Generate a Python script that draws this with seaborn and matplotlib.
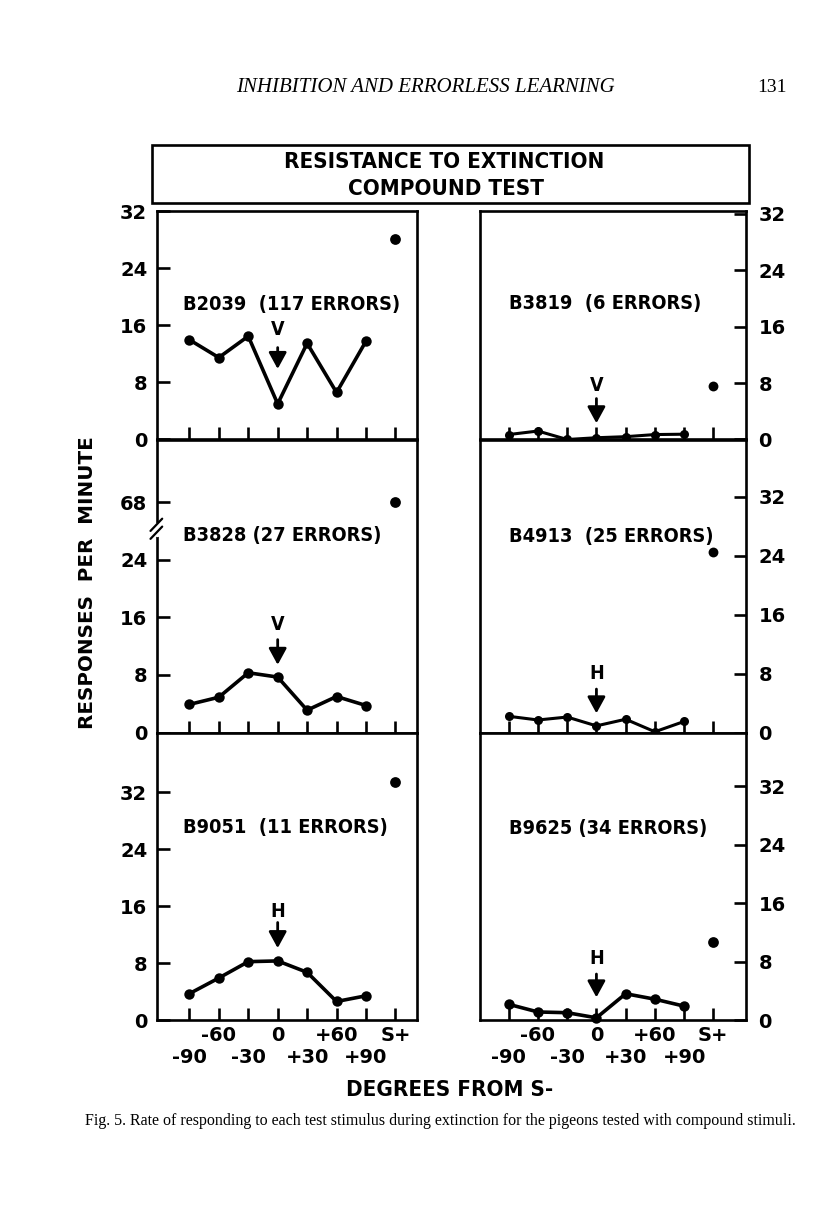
import os
import numpy as np
import pandas as pd
import matplotlib
matplotlib.use("Agg")
import matplotlib.pyplot as plt
import seaborn as sns
from matplotlib import font_manager as fm
from matplotlib.patches import Rectangle
from matplotlib.lines import Line2D

# ---------------- data ----------------
stim_labels = ["-90", "-60", "-30", "0", "+30", "+60", "+90", "S+"]
stim_pos = [-90, -60, -30, 0, 30, 60, 90, 120]

birds = ["B2039", "B3819", "B3828", "B4913", "B9051", "B9625"]
errors = [117, 6, 27, 25, 11, 34]
shift_dim = ["V", "V", "V", "H", "H", "H"]

b2039 = [14.0, 11.5, 14.5, 5.0, 13.5, 6.6, 13.8, 28.2]
b3819 = [0.7, 1.2, 0.0, 0.25, 0.4, 0.7, 0.75, 7.6]
b3828 = [3.9, 4.9, 8.3, 7.7, 3.1, 5.0, 3.75, 68.0]
b4913 = [2.2, 1.7, 2.1, 0.9, 1.8, 0.1, 1.5, 24.5]
b9051 = [3.7, 5.9, 8.2, 8.3, 6.7, 2.6, 3.4, 33.5]
b9625 = [2.15, 1.1, 1.0, 0.3, 3.6, 2.85, 1.9, 10.7]
rates = [b2039, b3819, b3828, b4913, b9051, b9625]

y_ticks = [0, 8, 16, 24, 32]
y_ticklabels_normal = ["0", "8", "16", "24", "32"]
y_ticklabels_broken = ["0", "8", "16", "24", "68"]
BREAK_OFFSET = 36  # values above the axis break (68) are drawn 36 units lower

# ---------------- fonts ----------------
def find_font(name):
    for f in fm.fontManager.ttflist:
        if os.path.basename(f.fname).lower() == name.lower():
            return f.fname
    for d in ["/usr/share/fonts", "/usr/local/share/fonts"]:
        for root, _, files in os.walk(d):
            for fn in files:
                if fn.lower() == name.lower():
                    return os.path.join(root, fn)
    return None

cond_bold = find_font("DejaVuSansCondensed-Bold.ttf")

def fcond(size):
    if cond_bold:
        return fm.FontProperties(fname=cond_bold, size=size)
    return fm.FontProperties(family="DejaVu Sans", weight="bold", size=size)

def fbold(size):
    return fm.FontProperties(family="DejaVu Sans", weight="bold", size=size)

sns.set_style("white")
plt.rcParams["font.family"] = ["DejaVu Sans"]
plt.rcParams["text.color"] = "black"
plt.rcParams["xtick.color"] = "black"
plt.rcParams["ytick.color"] = "black"
plt.rcParams["axes.edgecolor"] = "black"

W, H = 816, 1207
fig = plt.figure(figsize=(W / 100, H / 100), dpi=100)

def fx(px):
    return px / W

def fy(py):
    return 1 - py / H

# axes boxes in pixels
col_x = [(157, 417), (479.5, 746)]
row_y = [(211.5, 439.5), (439.5, 732.5), (732.5, 1020)]
xlims = [(-123, 142), (-120, 153.5)]
ylims = [[32.0, 32.3], [40.7, 39.8], [40.4, 39.4]]

# annotation layout (label y, arrow start y, arrow tip y) per panel
arrow_layout = [(15.5, 12.9, 9.9), (7.65, 5.8, 2.3), (15.0, 12.9, 9.4),
                (7.95, 5.9, 2.6), (15.3, 13.7, 10.1), (8.4, 6.3, 3.1)]
label_y = [19.0, 19.2, 27.4, 26.6, 27.1, 26.3]
label_x = [-96, -90]
panel_text = ["B2039  (117 ERRORS)", "B3819  (6 ERRORS)", "B3828 (27 ERRORS)",
              "B4913  (25 ERRORS)", "B9051  (11 ERRORS)", "B9625 (34 ERRORS)"]

LW = 1.9
for i, bird in enumerate(birds):
    r, c = divmod(i, 2)
    x0, x1 = col_x[c]
    t, b = row_y[r]
    ax = fig.add_axes([fx(x0), fy(b), fx(x1 - x0), (b - t) / H])
    broken = bird == "B3828"
    vals = np.array(rates[i], dtype=float)
    plot_vals = np.where(vals > 40, vals - BREAK_OFFSET, vals) if broken else vals
    df = pd.DataFrame({"stim": stim_labels, "pos": stim_pos,
                       "rate": vals, "plot_y": plot_vals})
    gen = df[df["stim"] != "S+"]
    splus = df[df["stim"] == "S+"]
    small = bird in ("B3819", "B4913")
    sns.lineplot(data=gen, x="pos", y="plot_y", ax=ax, color="black",
                 linewidth=2.6 if not small else 2.2, marker="o",
                 markersize=7.5 if not small else 6.5,
                 markeredgecolor="black", markeredgewidth=0,
                 clip_on=False, zorder=5)
    sns.scatterplot(data=splus, x="pos", y="plot_y", ax=ax, color="black",
                    s=60 if not small else 50, linewidth=0, clip_on=False, zorder=5)

    ax.set_xlim(*xlims[c])
    ax.set_ylim(0, ylims[r][c])
    ax.set_xlabel("")
    ax.set_ylabel("")
    for sp in ax.spines.values():
        sp.set_linewidth(LW)
        sp.set_color("black")
        sp.set_visible(True)

    ax.set_xticks(stim_pos)
    ax.set_yticks(y_ticks)
    ax.tick_params(axis="x", bottom=True, top=False, direction="in",
                   length=9, width=LW, color="black", labelcolor="black")
    if c == 1:
        ax.tick_params(axis="y", left=False, right=True, labelleft=False,
                       labelright=True, direction="in", length=9, width=LW,
                       pad=9, color="black", labelcolor="black")
    else:
        ax.tick_params(axis="y", left=True, right=False, direction="in",
                       length=9, width=LW, pad=7, color="black",
                       labelcolor="black")
    ylabs = y_ticklabels_broken if broken else y_ticklabels_normal
    ax.set_yticklabels(ylabs)
    for lab in ax.get_yticklabels():
        lab.set_fontproperties(fbold(14))
    if r == 2:
        ax.set_xticklabels(stim_labels)
        for k, (tk, lab) in enumerate(zip(ax.xaxis.get_major_ticks(), ax.get_xticklabels())):
            lab.set_fontproperties(fbold(14))
            tk.set_pad(4.5 if k % 2 == 1 else 20)
    else:
        ax.set_xticklabels([])

    # panel label
    ax.text(label_x[c], label_y[i], panel_text[i], fontproperties=fcond(14.3),
            ha="left", va="center", color="black")
    # shift direction marker and arrow at 0 deg
    ly, a0, a1 = arrow_layout[i]
    ax.text(0, ly, shift_dim[i], fontproperties=fcond(14), ha="center",
            va="center", color="black")
    ax.annotate("", xy=(0, a1), xytext=(0, a0),
                arrowprops=dict(arrowstyle="-|>,head_length=0.55,head_width=0.3",
                                lw=2.0, color="black", mutation_scale=18,
                                shrinkA=0, shrinkB=0))

    if broken:
        # axis break on the left spine
        ax.add_line(Line2D([0, 0], [27.6, 28.8], transform=ax.get_yaxis_transform(),
                           color="white", lw=LW + 2, clip_on=False, zorder=6))
        for dy in (0.0, 1.1):
            ax.add_line(Line2D([-0.025, 0.02], [26.9 + dy, 28.6 + dy],
                               transform=ax.get_yaxis_transform(),
                               color="black", lw=1.6, clip_on=False, zorder=7))

# ---------------- title box ----------------
fig.patches.append(Rectangle((fx(152), fy(203)), fx(749 - 152), (203 - 145) / H,
                             transform=fig.transFigure, fill=False,
                             edgecolor="black", lw=LW))
fig.text(fx(444), fy(162), "RESISTANCE TO EXTINCTION", fontproperties=fcond(16),
         ha="center", va="center", color="black")
fig.text(fx(446), fy(189), "COMPOUND TEST", fontproperties=fcond(16),
         ha="center", va="center", color="black")

# ---------------- axis titles ----------------
fig.text(fx(88), fy(583), "RESPONSES  PER  MINUTE", fontproperties=fbold(14.3),
         rotation=90, ha="center", va="center", color="black")
fig.text(fx(450), fy(1090), "DEGREES FROM S-", fontproperties=fcond(16),
         ha="center", va="center", color="black")

# ---------------- page header & caption ----------------
fig.text(fx(425), fy(87), "INHIBITION AND ERRORLESS LEARNING",
         family="Liberation Serif", style="italic", fontsize=15,
         ha="center", va="center", color="black")
fig.text(fx(772), fy(87), "131", family="Liberation Serif", fontsize=14,
         ha="center", va="center", color="black")
fig.text(fx(85), fy(1121),
         "Fig. 5. Rate of responding to each test stimulus during extinction for the pigeons tested with compound stimuli.",
         family="Liberation Serif", fontsize=11.5, ha="left", va="center",
         color="black")

fig.savefig("out.png", dpi=100, facecolor="white")
